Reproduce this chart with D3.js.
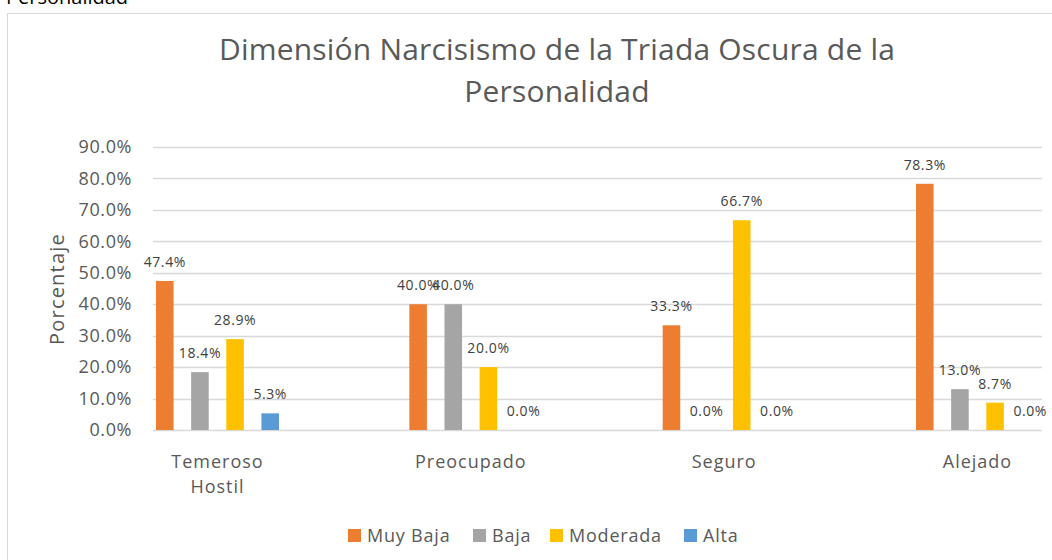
<!DOCTYPE html>
<html>
<head>
<meta charset="utf-8">
<script src="https://cdn.jsdelivr.net/npm/d3@7"></script>
<style>
  body { margin: 0; background: #fff; }
  svg { display: block; font-family: "Open Sans", "Noto Sans", sans-serif; }
</style>
</head>
<body>
<svg id="chart" width="1052" height="560"></svg>
<script>
const categories = [["Temeroso", "Hostil"], ["Preocupado"], ["Seguro"], ["Alejado"]];
const series = ["Muy Baja", "Baja", "Moderada", "Alta"];
const colors = ["#ED7D31", "#A5A5A5", "#FFC000", "#5B9BD5"];
const values = [
  [47.4, 18.4, 28.9, 5.3],
  [40.0, 40.0, 20.0, 0.0],
  [33.3, 0.0, 66.7, 0.0],
  [78.3, 13.0, 8.7, 0.0]
];
const yTicks = [0, 10, 20, 30, 40, 50, 60, 70, 80, 90];
const titleLines = ["Dimensión Narcisismo de la Triada Oscura de la", "Personalidad"];

const svg = d3.select("#chart");
const textCol = "#595959";

// caption cut off at the top of the picture
svg.append("text").attr("x", 6).attr("y", 4)
  .attr("font-size", 20).attr("fill", "#000").text("Personalidad");

// chart frame
svg.append("rect").attr("x", 7.5).attr("y", 13.5).attr("width", 1060).attr("height", 560)
  .attr("fill", "none").attr("stroke", "#d9d9d9");

// title
svg.append("g").selectAll("text").data(titleLines).enter().append("text")
  .attr("x", 557).attr("y", (d, i) => 60 + i * 42)
  .attr("text-anchor", "middle").attr("font-size", 30).attr("fill", textCol)
  .attr("letter-spacing", 0.2)
  .text(d => d);

const y = d3.scaleLinear().domain([0, 90]).range([430, 147]);
const x0 = d3.scalePoint().domain(categories.map((c, i) => i)).range([217.5, 977.5]);
const x1 = d3.scaleBand().domain(series).range([-61.5, 61.5]).paddingInner(0.5);

// gridlines
svg.append("g").selectAll("line").data(yTicks).enter().append("line")
  .attr("x1", 153).attr("x2", 1042)
  .attr("y1", d => Math.round(y(d)) + 0.5).attr("y2", d => Math.round(y(d)) + 0.5)
  .attr("stroke", "#d9d9d9").attr("stroke-width", 1.5);

// y axis labels
const yAxis = svg.append("g").attr("transform", "translate(138,0)")
  .call(d3.axisLeft(y).tickValues(yTicks).tickSize(0).tickPadding(6).tickFormat(d => d.toFixed(1) + "%"));
yAxis.select(".domain").remove();
yAxis.selectAll("text").attr("font-size", 18).attr("fill", textCol)
  .attr("letter-spacing", 0.6).attr("font-family", "'Open Sans', sans-serif");

svg.append("text").attr("transform", "translate(64,289) rotate(-90)")
  .attr("text-anchor", "middle").attr("font-size", 20).attr("fill", textCol)
  .attr("letter-spacing", 1.2).text("Porcentaje");

// bars
const groups = svg.append("g").selectAll("g").data(values).enter().append("g")
  .attr("transform", (d, i) => `translate(${x0(i)},0)`);

groups.selectAll("rect").data(d => d.map((v, j) => ({ v, s: series[j], c: colors[j] })))
  .enter().append("rect")
  .attr("x", d => x1(d.s)).attr("width", x1.bandwidth())
  .attr("y", d => y(d.v)).attr("height", d => y(0) - y(d.v))
  .attr("fill", d => d.c);

groups.selectAll("text").data(d => d.map((v, j) => ({ v, s: series[j] })))
  .enter().append("text")
  .attr("x", d => x1(d.s) + x1.bandwidth() / 2).attr("y", d => y(d.v) - 14)
  .attr("text-anchor", "middle").attr("font-size", 14).attr("fill", "#404040")
  .attr("letter-spacing", 0.6)
  .text(d => d.v.toFixed(1) + "%");

// category labels
const cat = svg.append("g").selectAll("text").data(categories).enter().append("text")
  .attr("x", (d, i) => x0(i)).attr("y", 468)
  .attr("text-anchor", "middle").attr("font-size", 18).attr("fill", textCol)
  .attr("letter-spacing", 1);
cat.selectAll("tspan").data(d => d).enter().append("tspan")
  .attr("x", function () { return d3.select(this.parentNode).attr("x"); })
  .attr("dy", (d, i) => i === 0 ? 0 : 25).text(d => d);

// legend
const legendX = [348, 473, 550, 684];
const leg = svg.append("g").selectAll("g").data(series).enter().append("g")
  .attr("transform", (d, i) => `translate(${legendX[i]},529)`);
leg.append("rect").attr("width", 13).attr("height", 13).attr("fill", (d, i) => colors[i]);
leg.append("text").attr("x", 19).attr("y", 13).attr("font-size", 18).attr("fill", textCol)
  .attr("letter-spacing", 0.8).text(d => d);
</script>
</body>
</html>
